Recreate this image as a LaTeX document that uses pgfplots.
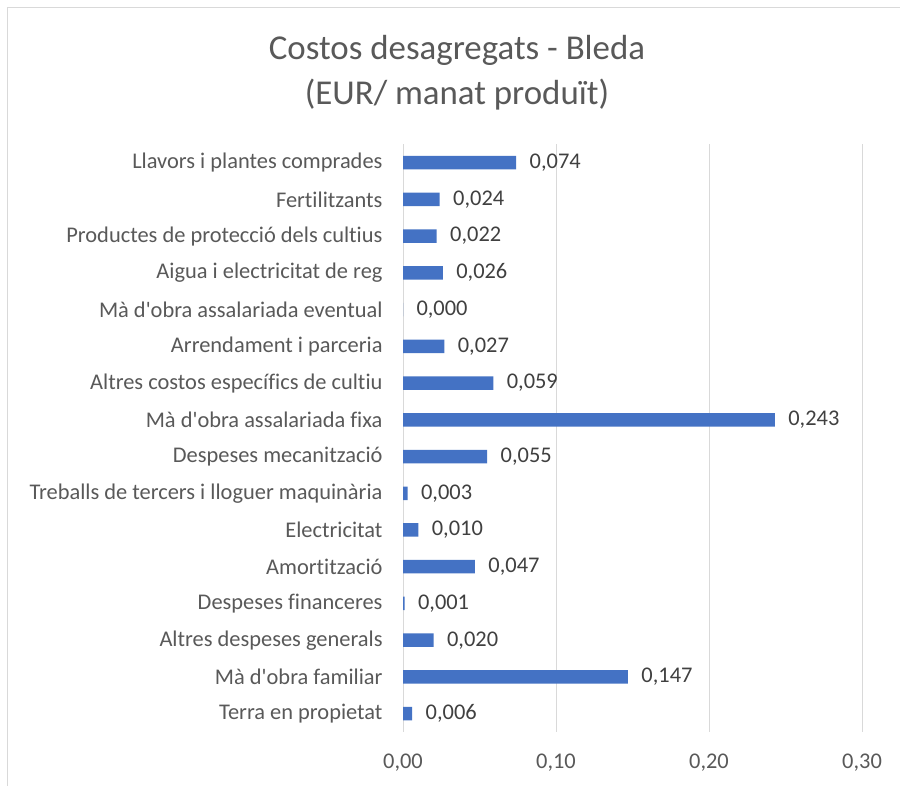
\documentclass[border=0pt]{standalone}
\usepackage{fontspec}
\setmainfont{Carlito}[Ligatures={TeXOff,NoCommon}]
\usepackage{pgfplots}
\pgfplotsset{compat=1.18}
\definecolor{barblue}{HTML}{4472C4}
\definecolor{txtgray}{HTML}{595959}
\definecolor{gridgray}{HTML}{D9D9D9}
\begin{document}
\begin{tikzpicture}
\useasboundingbox (0,0) rectangle (900bp,786bp);
\fill[white] (0,0) rectangle (900bp,786bp);
\draw[gridgray, line width=1bp] (7.5bp,-20bp) rectangle (920bp,778bp);
\node[txtgray, font=\fontsize{35}{45}\selectfont, align=center] at (457bp,713bp)
  {Costos desagregats - Bleda\\(EUR/ manat produït)};
\begin{axis}[
  at={(403bp,54bp)}, anchor=south west,
  scale only axis,
  width=459bp, height=587.7bp,
  xbar, bar width=13.5bp,
  xmin=0, xmax=0.3,
  ymin=-0.5, ymax=15.5,
  y dir=reverse,
  xtick={0,0.1,0.2,0.3},
  ytick={0,...,15},
  yticklabels={Llavors i plantes comprades, Fertilitzants, Productes de protecció dels cultius, Aigua i electricitat de reg, Mà d'obra assalariada eventual, Arrendament i parceria, Altres costos específics de cultiu, Mà d'obra assalariada fixa, Despeses mecanització, Treballs de tercers i lloguer maquinària, Electricitat, Amortització, Despeses financeres, Altres despeses generals, Mà d'obra familiar, Terra en propietat},
  xmajorgrids, grid style={gridgray, line width=1bp},
  axis line style={draw=none},
  axis x line*=bottom, axis y line*=left,
  major tick length=0pt,
  tick label style={font=\fontsize{22.5}{27}\selectfont, txtgray},
  yticklabel style={xshift=-17bp},
  xticklabel style={yshift=-18bp},
  /pgf/number format/assume math mode=true,
  xticklabel={\pgfmathprintnumber[fixed, fixed zerofill, precision=2, use comma]{\tick}},
  nodes near coords={\pgfmathprintnumber[fixed, fixed zerofill, precision=3, use comma]{\pgfplotspointmeta}},
  nodes near coords style={font=\fontsize{22.5}{27}\selectfont, color=black!75, anchor=west, xshift=10bp},
  clip=false,
]
\draw[gridgray, line width=1bp] (axis cs:0,-0.5) -- (axis cs:0,15.5);
\addplot[fill=barblue, draw=none] coordinates {
  (0.074,0) (0.024,1) (0.022,2) (0.026,3) (0.000,4) (0.027,5) (0.059,6) (0.243,7)
  (0.055,8) (0.003,9) (0.010,10) (0.047,11) (0.001,12) (0.020,13) (0.147,14) (0.006,15)
};
\end{axis}
\end{tikzpicture}
\end{document}
